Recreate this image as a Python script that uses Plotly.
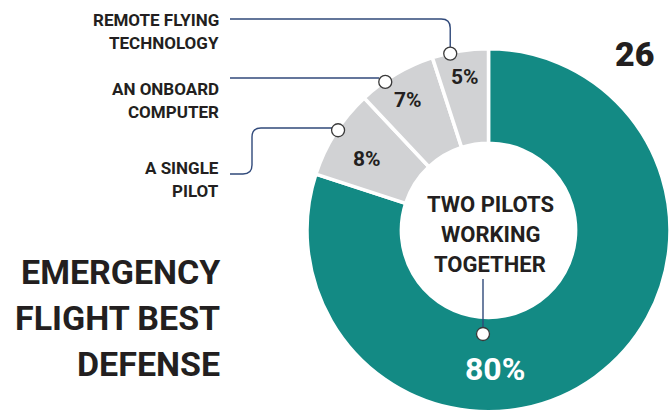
import math
import plotly.graph_objects as go

# ---- data ----
categories = ["TWO PILOTS WORKING TOGETHER", "A SINGLE PILOT", "AN ONBOARD COMPUTER", "REMOTE FLYING TECHNOLOGY"]
values = [80, 8, 7, 5]
label_lines = [["TWO PILOTS", "WORKING", "TOGETHER"], ["A SINGLE", "PILOT"], ["AN ONBOARD", "COMPUTER"], ["REMOTE FLYING", "TECHNOLOGY"]]
title_lines = ["EMERGENCY", "FLIGHT BEST", "DEFENSE"]
page_number = "26"

# ---- style ----
W, H = 670, 412
TEAL = "#138A84"
GRAY = "#D1D2D4"
DARK = "#231F20"
NAVY = "#30497A"
COND = "Roboto, Liberation Sans Narrow, sans-serif"

CX, CY, R = 488.5, 230.0, 181.5
HOLE = 0.48

fig = go.Figure()

# invisible helper trace so a pixel-based cartesian frame exists for shapes/annotations
fig.add_trace(go.Scatter(x=[0, W], y=[0, H], mode="markers", marker=dict(opacity=0),
                         hoverinfo="skip", showlegend=False))

fig.add_trace(go.Pie(
    labels=categories, values=values, sort=False, direction="clockwise", rotation=0,
    hole=HOLE, marker=dict(colors=[TEAL, GRAY, GRAY, GRAY], line=dict(color="white", width=3.5)),
    textinfo="none", showlegend=False,
    domain=dict(x=[(CX - R) / W, 1.0], y=[0.0, (H - (CY - R)) / H]),
))

total = sum(values)
starts = []
acc = 0.0
for v in values:
    starts.append(acc / total * 360.0)
    acc += v


def pt(theta_cw, rad):
    t = math.radians(theta_cw)
    return CX + rad * math.sin(t), CY - rad * math.cos(t)


def slice_angle(i, frac):
    return starts[i] + frac * values[i] / total * 360.0


shapes = []
annotations = []

def circle(x, y, r=6.5):
    shapes.append(dict(type="circle", xref="x", yref="y", x0=x - r, x1=x + r, y0=y - r, y1=y + r,
                       fillcolor="white", line=dict(color="#3a3a3a", width=1.3), layer="above"))

def path(d):
    shapes.append(dict(type="path", xref="x", yref="y", path=d,
                       line=dict(color=NAVY, width=1.4), layer="above"))

# marker positions on the gray slices (fractions along each slice)
marker_frac = {1: 0.54, 2: 0.33, 3: 0.32}
label_pos = {1: (0.42, 141), 2: (0.45, 153), 3: (0.51, 155)}
mk = {i: pt(slice_angle(i, f), R - 1) for i, f in marker_frac.items()}

# leader lines
x5, y5 = mk[3]
path(f"M 230,19 L {x5-9},19 Q {x5},19 {x5},28 L {x5},{y5-6}")
x7, y7 = mk[2]
path(f"M 230,78 L {x7-6},78")
x8, y8 = mk[1]
path(f"M 230,174 L 243,174 Q 252,174 252,165 L 252,137 Q 252,128 261,128 L {x8-6},128")
# main slice leader
xm, ym = CX - 5.5, CY + 104
path(f"M {xm},279 L {xm},{ym-6}")

for i in (1, 2, 3):
    circle(*mk[i])
circle(xm, ym)

# percentage labels
for i in (1, 2, 3):
    f, rad = label_pos[i]
    x, y = pt(slice_angle(i, f), rad)
    annotations.append(dict(x=x, y=y, xref="x", yref="y", text=f"{values[i]}%", showarrow=False,
                            font=dict(family=COND, size=21, color=DARK, weight="bold"),
                            xanchor="center", yanchor="middle"))
annotations.append(dict(x=CX + 6, y=369, xref="x", yref="y", text=f"{values[0]}%", showarrow=False,
                        font=dict(family=COND, size=32, color="white", weight="bold"),
                        xanchor="center", yanchor="middle"))

# center label
for k, line in enumerate(label_lines[0]):
    annotations.append(dict(x=CX + 1.5, y=204 + 30 * k, xref="x", yref="y", text=line, showarrow=False,
                            font=dict(family=COND, size=22, color=DARK, weight="bold"),
                            xanchor="center", yanchor="middle"))

# side labels
side_y = {3: 20, 2: 89, 1: 168}
for i, y0 in side_y.items():
    for k, line in enumerate(label_lines[i]):
        annotations.append(dict(x=221, y=y0 + 23 * k, xref="x", yref="y", text=line, showarrow=False,
                                font=dict(family=COND, size=17, color=DARK, weight="bold"),
                                xanchor="right", yanchor="middle"))

# title
for k, line in enumerate(title_lines):
    annotations.append(dict(x=222, y=272 + 46 * k, xref="x", yref="y", text=line, showarrow=False,
                            font=dict(family=COND, size=34, color=DARK, weight="bold"),
                            xanchor="right", yanchor="middle"))

# page number
annotations.append(dict(x=634, y=54, xref="x", yref="y", text=page_number, showarrow=False,
                        font=dict(family="Roboto, Lato, sans-serif", size=34, color=DARK, weight=900),
                        xanchor="center", yanchor="middle"))

fig.update_layout(
    width=W, height=H, margin=dict(l=0, r=0, t=0, b=0),
    paper_bgcolor="white", plot_bgcolor="rgba(0,0,0,0)",
    xaxis=dict(range=[0, W], visible=False, fixedrange=True, domain=[0, 1]),
    yaxis=dict(range=[H, 0], visible=False, fixedrange=True, domain=[0, 1]),
    shapes=shapes, annotations=annotations, showlegend=False,
)

fig.write_html("out.html")
